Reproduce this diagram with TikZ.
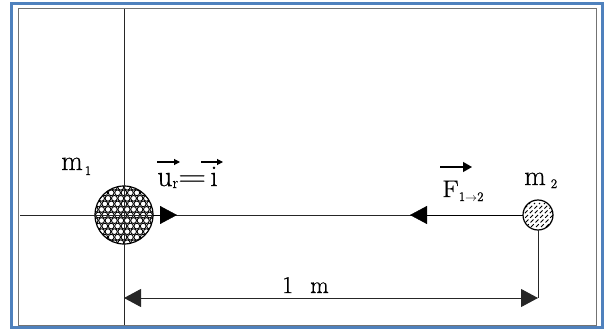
\documentclass[tikz,border=0pt]{standalone}
\usepackage{fontspec}
\usetikzlibrary{arrows.meta}
\newfontfamily\heavy{Latin Modern Roman}[FakeBold=0.6]
\definecolor{frameblue}{RGB}{79,129,189}
\begin{document}
\begin{tikzpicture}[x=1pt,y=-1pt,
  tip/.style={-{Triangle[length=17pt,width=18pt]}},
  lbl/.style={inner sep=0pt,anchor=base west},
  vec/.style={line width=1.1pt,-{Triangle[length=6pt,width=6pt]}},
  ax/.style={line width=0.9pt,draw=black!85}]
\useasboundingbox (0,0) rectangle (606,329);
% frames
\draw[frameblue,line width=3pt] (11.5,3.5) rectangle (602.5,327.5);
\draw[black!55,line width=1pt] (18,8.5) rectangle (596,325.5);
% masses
\node[circle,minimum size=58pt,inner sep=0pt] (m1) at (124,215) {};
\node[circle,minimum size=30pt,inner sep=0pt] (m2) at (538,215) {};
\begin{scope}
  \clip (m1.center) circle (29);
  \foreach \r in {-6,...,6}{
    \foreach \c in {-6,...,6}{
      \pgfmathsetmacro{\xx}{124+\c*6.4+mod(abs(\r),2)*3.2}
      \pgfmathsetmacro{\yy}{215+\r*5.55}
      \draw[line width=0.9pt] (\xx,\yy) circle (2.9);
    }
  }
\end{scope}
\draw[line width=1.2pt] (m1.center) circle (29);
\begin{scope}
  \clip (m2.center) circle (15);
  \foreach \k in {-5,...,5}{
    \draw[line width=1pt,dash pattern=on 4pt off 2.5pt] (538+\k*5-12,227) -- ++(24,-24);
  }
\end{scope}
\draw[line width=1.2pt] (m2.center) circle (15);
% axes
\coordinate (top) at (124,9);
\coordinate (bot) at (124,325);
\coordinate (left) at (20,215);
\draw[ax] (top) -- (bot);
\draw[ax] (left) -- (m2.west);
\draw[tip] (m1.east) -- (177,215);
\draw[tip] (m2.west) -- (410,215);
% dimension
\coordinate (d1) at (124,298);
\coordinate (d2) at (538,298);
\draw[ax] (m2.south) -- (d2);
\draw[ax,{Triangle[length=17pt,width=18pt]}-{Triangle[length=17pt,width=18pt]}] (d1) -- (d2);
% labels
\node[lbl,font=\heavy\fontsize{28}{32}\selectfont] (lm1) at (61,170) {m\raisebox{-5pt}{\fontsize{13}{14}\selectfont\hspace{2pt}1}};
\node[lbl,font=\heavy\fontsize{28}{32}\selectfont] (lm2) at (524,185) {m\raisebox{-3pt}{\fontsize{13}{14}\selectfont\hspace{5pt}2}};
\node[lbl,font=\heavy\fontsize{30}{34}\selectfont] (lu) at (157,186) {u\raisebox{-2pt}{\fontsize{16}{17}\selectfont r}\hspace{0pt}\scalebox{1.3}[1]{=}\hspace{4pt}i};
\node[lbl,font=\heavy\fontsize{24}{28}\selectfont] (lf) at (442,197) {\scalebox{1.15}[1]{F}\raisebox{-4pt}{\fontsize{13}{14}\selectfont 1$\to$2}};
\node[lbl,font=\heavy\fontsize{24}{28}\selectfont] (l1m) at (282,293) {1\hspace{17pt}m};
% vector arrows
\draw[vec] ([xshift=0pt,yshift=24pt]lu.base west) -- ++(23,0);
\draw[vec] ([xshift=44pt,yshift=24pt]lu.base west) -- ++(22,0);
\draw[line width=1.3pt,-{Triangle[length=9pt,width=10pt]}] ([xshift=-2pt,yshift=30pt]lf.base west) -- ++(32,0);
\end{tikzpicture}
\end{document}
